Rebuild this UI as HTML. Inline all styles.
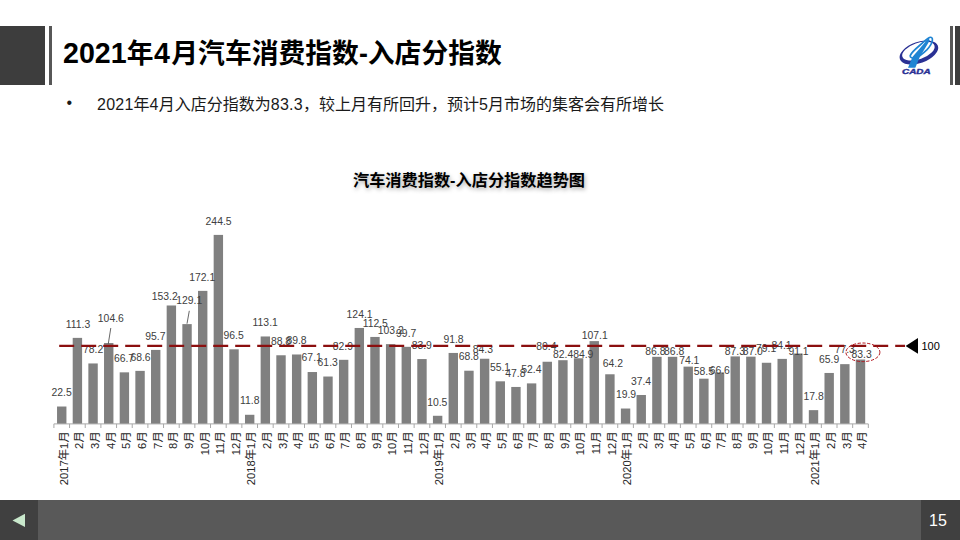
<!DOCTYPE html>
<html><head><meta charset="utf-8">
<style>
*{margin:0;padding:0;box-sizing:border-box}
html,body{width:960px;height:540px;overflow:hidden;background:#fff}
body{position:relative;font-family:"Liberation Sans","Noto Sans CJK SC",sans-serif}
.blk{position:absolute;background:#3d3d3d}
.bar{position:absolute;background:#575757}
#title{position:absolute;left:63px;top:35px;font-size:26.8px;font-weight:bold;color:#000;white-space:nowrap;line-height:36px}
#title .d{font-size:28.6px}
#sub .n{letter-spacing:.25px}
#sub{position:absolute;left:97px;top:91.2px;font-size:16px;color:#1a1a1a;white-space:nowrap}
#bullet{position:absolute;left:66.5px;top:93.8px;font-size:16px;color:#1a1a1a}
#ctitle{position:absolute;left:353px;top:167px;font-size:16.2px;font-weight:bold;color:#000;white-space:nowrap;text-shadow:1px 2px 4px rgba(0,0,0,0.35)}
#foot{position:absolute;left:0;top:500px;width:960px;height:40px;background:#595959}
#pg{position:absolute;left:921px;top:500px;width:39px;height:40px;background:#404040;color:#fff;font-size:16px;padding-left:8px;line-height:42px}
#prev{position:absolute;left:0;top:500px;width:38px;height:40px;background:#404040}
svg{position:absolute;left:0;top:0}
</style></head><body>
<div class="blk" style="left:0;top:26px;width:45px;height:59px"></div>
<div class="bar" style="left:49px;top:26px;width:3px;height:59px"></div>
<div class="bar" style="left:950px;top:26px;width:3px;height:59px"></div>
<div class="blk" style="left:955px;top:26px;width:5px;height:59px"></div>
<div id="title"><span class="d">2021</span>年<span class="d" style="padding:0 1.4px 0 .6px">4</span>月汽车消费指数-入店分指数</div>
<div id="bullet">•</div>
<div id="sub"><span class="n">2021</span>年<span class="n">4</span>月入店分指数为<span class="n">83.3</span>，较上月有所回升，预计<span class="n">5</span>月市场的集客会有所增长</div>
<div id="ctitle">汽车消费指数-入店分指数趋势图</div>
<div id="foot"></div>
<div id="prev"></div>
<div id="pg">15</div>
<svg width="960" height="540" viewBox="0 0 960 540">
<g id="logo">
<path fill="#2a3194" fill-rule="evenodd" transform="translate(918.9 52.5) rotate(-19.5)" d="M-20.15 0A20.15 10.6 0 1 0 20.15 0A20.15 10.6 0 1 0 -20.15 0ZM-17 -1.5A17 8.1 0 1 0 17 -1.5A17 8.1 0 1 0 -17 -1.5Z"/>
<path fill="none" stroke="#1f84d3" stroke-width="1.7" stroke-linejoin="round" d="M910.2 55.6C911 53.3 915.5 49 919 46C923 42.5 927 39 929.5 37.6C931.2 36.7 932.6 37.6 932.4 40C932.2 43 930 46.5 926.8 49.8C923.5 53 920 56 916 57.6C912.5 58.6 909.8 57.5 910.2 55.6Z"/>
<path fill="#1f84d3" d="M908 67.8L915.3 67.8L919.8 57L929.9 40.2L928.3 38.6L918 50.5L912.6 56.8Z"/>
<text x="902" y="73.8" font-family="Liberation Sans,sans-serif" font-weight="bold" font-style="italic" font-size="6.5" fill="#2a3194" stroke="#2a3194" stroke-width="0.35" textLength="28.6" lengthAdjust="spacingAndGlyphs">CADA</text>
</g>
<polygon points="25,513.8 25,527 12.5,520.4" fill="#c9e8cc"/>
<g fill="#808080"><rect x="57.04" y="406.51" width="9.4" height="17.39"/><rect x="72.70" y="337.87" width="9.4" height="86.03"/><rect x="88.36" y="363.45" width="9.4" height="60.45"/><rect x="104.03" y="343.04" width="9.4" height="80.86"/><rect x="119.69" y="372.34" width="9.4" height="51.56"/><rect x="135.35" y="370.87" width="9.4" height="53.03"/><rect x="151.01" y="349.92" width="9.4" height="73.98"/><rect x="166.67" y="305.48" width="9.4" height="118.42"/><rect x="182.34" y="324.11" width="9.4" height="99.79"/><rect x="198.00" y="290.87" width="9.4" height="133.03"/><rect x="213.66" y="234.90" width="9.4" height="189.00"/><rect x="229.32" y="349.31" width="9.4" height="74.59"/><rect x="244.98" y="414.78" width="9.4" height="9.12"/><rect x="260.65" y="336.47" width="9.4" height="87.43"/><rect x="276.31" y="355.26" width="9.4" height="68.64"/><rect x="291.97" y="354.48" width="9.4" height="69.42"/><rect x="307.63" y="372.03" width="9.4" height="51.87"/><rect x="323.29" y="376.52" width="9.4" height="47.38"/><rect x="338.96" y="359.82" width="9.4" height="64.08"/><rect x="354.62" y="327.97" width="9.4" height="95.93"/><rect x="370.28" y="336.94" width="9.4" height="86.96"/><rect x="385.94" y="344.13" width="9.4" height="79.77"/><rect x="401.60" y="346.83" width="9.4" height="77.07"/><rect x="417.27" y="359.05" width="9.4" height="64.85"/><rect x="432.93" y="415.78" width="9.4" height="8.12"/><rect x="448.59" y="352.94" width="9.4" height="70.96"/><rect x="464.25" y="370.72" width="9.4" height="53.18"/><rect x="479.91" y="358.74" width="9.4" height="65.16"/><rect x="495.58" y="381.31" width="9.4" height="42.59"/><rect x="511.24" y="386.95" width="9.4" height="36.95"/><rect x="526.90" y="383.39" width="9.4" height="40.51"/><rect x="542.56" y="361.75" width="9.4" height="62.15"/><rect x="558.22" y="360.20" width="9.4" height="63.70"/><rect x="573.89" y="358.27" width="9.4" height="65.63"/><rect x="589.55" y="341.11" width="9.4" height="82.79"/><rect x="605.21" y="374.27" width="9.4" height="49.63"/><rect x="620.87" y="408.52" width="9.4" height="15.38"/><rect x="636.53" y="394.99" width="9.4" height="28.91"/><rect x="652.20" y="356.80" width="9.4" height="67.10"/><rect x="667.86" y="356.80" width="9.4" height="67.10"/><rect x="683.52" y="366.62" width="9.4" height="57.28"/><rect x="699.18" y="378.68" width="9.4" height="45.22"/><rect x="714.84" y="372.42" width="9.4" height="51.48"/><rect x="730.51" y="356.42" width="9.4" height="67.48"/><rect x="746.17" y="356.65" width="9.4" height="67.25"/><rect x="761.83" y="362.76" width="9.4" height="61.14"/><rect x="777.49" y="358.89" width="9.4" height="65.01"/><rect x="793.15" y="353.48" width="9.4" height="70.42"/><rect x="808.82" y="410.14" width="9.4" height="13.76"/><rect x="824.48" y="372.96" width="9.4" height="50.94"/><rect x="840.14" y="364.15" width="9.4" height="59.75"/><rect x="855.80" y="359.51" width="9.4" height="64.39"/></g>
<path d="M53.91 423.9H868.33M53.91 423.9V428M69.57 423.9V428M85.23 423.9V428M100.90 423.9V428M116.56 423.9V428M132.22 423.9V428M147.88 423.9V428M163.54 423.9V428M179.21 423.9V428M194.87 423.9V428M210.53 423.9V428M226.19 423.9V428M241.85 423.9V428M257.52 423.9V428M273.18 423.9V428M288.84 423.9V428M304.50 423.9V428M320.16 423.9V428M335.82 423.9V428M351.49 423.9V428M367.15 423.9V428M382.81 423.9V428M398.47 423.9V428M414.13 423.9V428M429.80 423.9V428M445.46 423.9V428M461.12 423.9V428M476.78 423.9V428M492.44 423.9V428M508.11 423.9V428M523.77 423.9V428M539.43 423.9V428M555.09 423.9V428M570.75 423.9V428M586.42 423.9V428M602.08 423.9V428M617.74 423.9V428M633.40 423.9V428M649.07 423.9V428M664.73 423.9V428M680.39 423.9V428M696.05 423.9V428M711.71 423.9V428M727.38 423.9V428M743.04 423.9V428M758.70 423.9V428M774.36 423.9V428M790.02 423.9V428M805.69 423.9V428M821.35 423.9V428M837.01 423.9V428M852.67 423.9V428M868.33 423.9V428" stroke="#a8a8a8" stroke-width="1" fill="none"/>
<g font-family="Liberation Sans,sans-serif" font-size="10.4" fill="#404040" text-anchor="middle"><text x="61.6" y="396">22.5</text><text x="78" y="327.5">111.3</text><text x="93.1" y="353">78.2</text><text x="110.85" y="321.7">104.6</text><text x="124" y="362">66.7</text><text x="140.5" y="360.8">68.6</text><text x="155.4" y="340">95.7</text><text x="164.8" y="300.3">153.2</text><text x="189.2" y="304.2">129.1</text><text x="202.2" y="280.8">172.1</text><text x="218.6" y="224.8">244.5</text><text x="233.6" y="339.2">96.5</text><text x="249.8" y="404">11.8</text><text x="265.2" y="326.3">113.1</text><text x="281" y="344.7">88.8</text><text x="296.5" y="344.2">89.8</text><text x="311.7" y="361.3">67.1</text><text x="327.7" y="366.3">61.3</text><text x="342.9" y="349.7">82.9</text><text x="359.6" y="318">124.1</text><text x="375.3" y="327">112.5</text><text x="390.8" y="333.7">103.2</text><text x="406.2" y="336.7">99.7</text><text x="421.8" y="348.7">83.9</text><text x="437.3" y="405.8">10.5</text><text x="453.5" y="343">91.8</text><text x="468.75" y="360">68.8</text><text x="482.9" y="353">84.3</text><text x="500" y="370.8">55.1</text><text x="515.4" y="376.7">47.8</text><text x="531.4" y="373.3">52.4</text><text x="546.4" y="349.6">80.4</text><text x="563.1" y="357.6">82.4</text><text x="583.3" y="357.6">84.9</text><text x="594.7" y="338.7">107.1</text><text x="612.9" y="367">64.2</text><text x="626" y="398">19.9</text><text x="641" y="384.7">37.4</text><text x="655.4" y="354.7">86.8</text><text x="674.2" y="354.7">86.8</text><text x="689.3" y="363.7">74.1</text><text x="703.9" y="375">58.5</text><text x="719.75" y="373.7">66.6</text><text x="734.9" y="354.7">87.3</text><text x="752.8" y="354.7">87.0</text><text x="766.1" y="352.4">79.1</text><text x="781.5" y="348.75">84.1</text><text x="798.5" y="355">91.1</text><text x="813.6" y="400.2">17.8</text><text x="829.1" y="362.6">65.9</text><text x="844.8" y="353.3">77.3</text><text x="861.6" y="358">83.3</text></g>
<path d="M110.8 328L108.3 343.7M189.3 310.8L187 323.7" stroke="#404040" stroke-width="0.8"/>
<g font-family="Liberation Sans,Noto Sans CJK SC,sans-serif" font-size="11.3" fill="#262626" text-anchor="end"><text transform="translate(67.54 431.3) rotate(-90)">2017年1月</text><text transform="translate(83.20 431.3) rotate(-90)">2月</text><text transform="translate(98.86 431.3) rotate(-90)">3月</text><text transform="translate(114.53 431.3) rotate(-90)">4月</text><text transform="translate(130.19 431.3) rotate(-90)">5月</text><text transform="translate(145.85 431.3) rotate(-90)">6月</text><text transform="translate(161.51 431.3) rotate(-90)">7月</text><text transform="translate(177.17 431.3) rotate(-90)">8月</text><text transform="translate(192.84 431.3) rotate(-90)">9月</text><text transform="translate(208.50 431.3) rotate(-90)">10月</text><text transform="translate(224.16 431.3) rotate(-90)">11月</text><text transform="translate(239.82 431.3) rotate(-90)">12月</text><text transform="translate(255.48 431.3) rotate(-90)">2018年1月</text><text transform="translate(271.15 431.3) rotate(-90)">2月</text><text transform="translate(286.81 431.3) rotate(-90)">3月</text><text transform="translate(302.47 431.3) rotate(-90)">4月</text><text transform="translate(318.13 431.3) rotate(-90)">5月</text><text transform="translate(333.79 431.3) rotate(-90)">6月</text><text transform="translate(349.46 431.3) rotate(-90)">7月</text><text transform="translate(365.12 431.3) rotate(-90)">8月</text><text transform="translate(380.78 431.3) rotate(-90)">9月</text><text transform="translate(396.44 431.3) rotate(-90)">10月</text><text transform="translate(412.10 431.3) rotate(-90)">11月</text><text transform="translate(427.77 431.3) rotate(-90)">12月</text><text transform="translate(443.43 431.3) rotate(-90)">2019年1月</text><text transform="translate(459.09 431.3) rotate(-90)">2月</text><text transform="translate(474.75 431.3) rotate(-90)">3月</text><text transform="translate(490.41 431.3) rotate(-90)">4月</text><text transform="translate(506.08 431.3) rotate(-90)">5月</text><text transform="translate(521.74 431.3) rotate(-90)">6月</text><text transform="translate(537.40 431.3) rotate(-90)">7月</text><text transform="translate(553.06 431.3) rotate(-90)">8月</text><text transform="translate(568.72 431.3) rotate(-90)">9月</text><text transform="translate(584.39 431.3) rotate(-90)">10月</text><text transform="translate(600.05 431.3) rotate(-90)">11月</text><text transform="translate(615.71 431.3) rotate(-90)">12月</text><text transform="translate(631.37 431.3) rotate(-90)">2020年1月</text><text transform="translate(647.03 431.3) rotate(-90)">2月</text><text transform="translate(662.70 431.3) rotate(-90)">3月</text><text transform="translate(678.36 431.3) rotate(-90)">4月</text><text transform="translate(694.02 431.3) rotate(-90)">5月</text><text transform="translate(709.68 431.3) rotate(-90)">6月</text><text transform="translate(725.34 431.3) rotate(-90)">7月</text><text transform="translate(741.01 431.3) rotate(-90)">8月</text><text transform="translate(756.67 431.3) rotate(-90)">9月</text><text transform="translate(772.33 431.3) rotate(-90)">10月</text><text transform="translate(787.99 431.3) rotate(-90)">11月</text><text transform="translate(803.65 431.3) rotate(-90)">12月</text><text transform="translate(819.32 431.3) rotate(-90)">2021年1月</text><text transform="translate(834.98 431.3) rotate(-90)">2月</text><text transform="translate(850.64 431.3) rotate(-90)">3月</text><text transform="translate(866.30 431.3) rotate(-90)">4月</text></g>
<line x1="59.2" y1="345.9" x2="905" y2="345.9" stroke="#8b0f0f" stroke-width="2.4" stroke-dasharray="15 7"/>
<polygon points="905.6,346 918,338 918,353.8" fill="#000"/>
<text x="921.5" y="349.8" font-family="Liberation Sans,sans-serif" font-size="11" fill="#000">100</text>
<ellipse cx="862.9" cy="352.3" rx="17" ry="9.3" fill="none" stroke="#b3141c" stroke-width="1" stroke-dasharray="3.2 1.6"/>
</svg>
</body></html>
